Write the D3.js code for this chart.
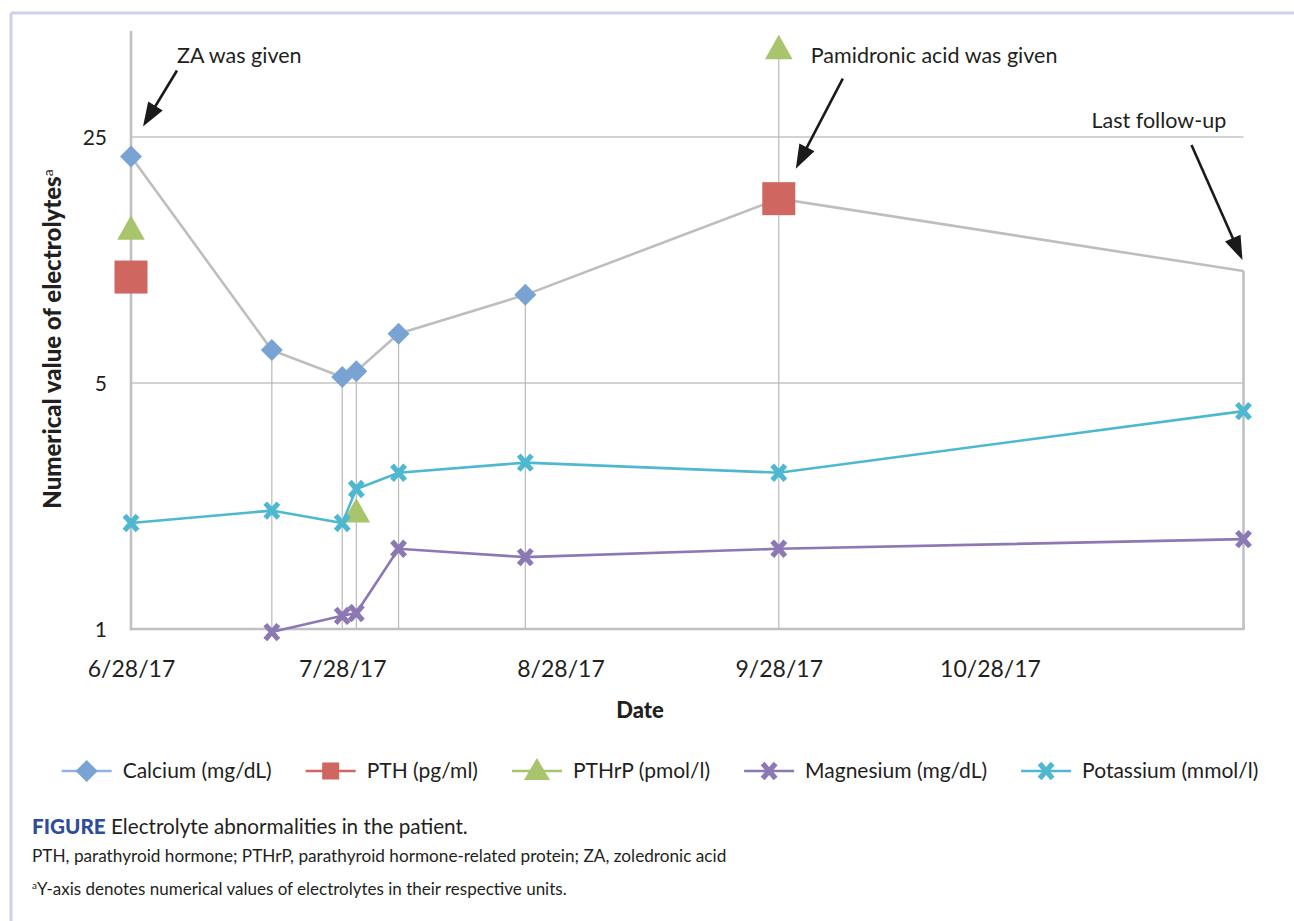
<!DOCTYPE html>
<html>
<head>
<meta charset="utf-8">
<script src="https://cdn.jsdelivr.net/npm/d3@7"></script>
<style>
  body { margin: 0; background: #fff; }
  svg { display: block; }
  text { font-family: Lato, "Open Sans", sans-serif; fill: #231f20; }
</style>
</head>
<body>
<svg id="chart" width="1294" height="921"></svg>
<script>
// ---- data -------------------------------------------------------------
const visitDates = ["2017-06-28", "2017-07-18", "2017-07-28", "2017-07-30",
                    "2017-08-05", "2017-08-23", "2017-09-28", "2017-12-03"];
const calcium = [22, 6.2, 5.2, 5.4, 6.9, 8.9, 16.7, 10.4];
const calciumMarked = [true, true, true, true, true, true, true, false];

const pthDates = ["2017-06-28", "2017-09-28"];
const pth = [10, 16.7];

const pthrpDates = ["2017-06-28", "2017-07-30", "2017-09-28"];
const pthrp = [13.8, 2.17, 45];

const magnesiumDates = ["2017-07-18", "2017-07-28", "2017-07-30", "2017-08-05",
                        "2017-08-23", "2017-09-28", "2017-12-03"];
const magnesium = [0.98, 1.09, 1.11, 1.69, 1.6, 1.69, 1.8];

const potassium = [2.0, 2.17, 2.0, 2.5, 2.78, 2.97, 2.78, 4.16];

const yTicks = [1, 5, 25];
const yAxisTop = 50;
const xTickDates = ["2017-06-28", "2017-07-28", "2017-08-28", "2017-09-28", "2017-10-28"];
const xTickLabels = ["6/28/17", "7/28/17", "8/28/17", "9/28/17", "10/28/17"];

const seriesNames = ["Calcium (mg/dL)", "PTH (pg/ml)", "PTHrP (pmol/l)",
                     "Magnesium (mg/dL)", "Potassium (mmol/l)"];

const annotations = [
  { text: "ZA was given", date: "2017-06-28", value: 22,
    tip: [12, -30], tail: [46, -86], label: [46, -94] },
  { text: "Pamidronic acid was given", date: "2017-09-28", value: 16.7,
    tip: [17, -30], tail: [64, -120], label: [32, -136] },
  { text: "Last follow-up", date: "2017-12-03", value: 10.4,
    tip: [-1, -11], tail: [-52, -126], label: [-152, -143] }
];

// ---- setup ------------------------------------------------------------
const parse = d3.utcParse("%Y-%m-%d");
const svg = d3.select("#chart");

const colors = {
  calcium: "#78a3d3", calciumLine: "#8fb4de", connector: "#bebebe",
  pth: "#cf665f", pthrp: "#a8c46c", magnesium: "#8c78b2", potassium: "#4db8d0",
  grid: "#c4c4c4", axis: "#c0c0c4", frame: "#cdd0ec"
};

const x = d3.scaleUtc()
  .domain([parse(visitDates[0]), parse(visitDates[visitDates.length - 1])])
  .range([131, 1243.5]);
const y = d3.scaleLog().base(5).domain([1, 25]).range([629, 137]);

const xL = x.range()[0], xR = x.range()[1];

// page frame
svg.append("line").attr("x1", 11).attr("x2", 1294).attr("y1", 13).attr("y2", 13)
  .attr("stroke", colors.frame).attr("stroke-width", 3);
svg.append("line").attr("x1", 11).attr("x2", 11).attr("y1", 13).attr("y2", 921)
  .attr("stroke", colors.frame).attr("stroke-width", 3);

// horizontal gridlines
svg.append("g").selectAll("line").data(yTicks.filter(t => t > 1)).join("line")
  .attr("x1", xL).attr("x2", xR)
  .attr("y1", d => y(d)).attr("y2", d => y(d))
  .attr("stroke", colors.grid).attr("stroke-width", 1.3);

// drop lines from the highest reading on each date
const allReadings = [];
visitDates.forEach((d, i) => allReadings.push({ d, v: calcium[i] }));
pthDates.forEach((d, i) => allReadings.push({ d, v: pth[i] }));
pthrpDates.forEach((d, i) => allReadings.push({ d, v: pthrp[i] }));
magnesiumDates.forEach((d, i) => allReadings.push({ d, v: magnesium[i] }));
visitDates.forEach((d, i) => allReadings.push({ d, v: potassium[i] }));
const dropTops = Array.from(d3.rollup(allReadings, r => d3.max(r, e => e.v), e => e.d),
  ([d, v]) => ({ d, v }));
const lastDate = visitDates[visitDates.length - 1];
svg.append("g").selectAll("line").data(dropTops).join("line")
  .attr("x1", d => x(parse(d.d))).attr("x2", d => x(parse(d.d)))
  .attr("y1", d => y(d.v)).attr("y2", y(1))
  .attr("stroke", d => d.d === lastDate ? colors.axis : "#b9b9b9")
  .attr("stroke-width", d => d.d === lastDate ? 2.6 : 1.2);

// axes
const yAxis = d3.axisLeft(y).tickValues(yTicks).tickSize(0).tickPadding(24)
  .tickFormat(d3.format("d"));
const gy = svg.append("g").attr("transform", `translate(${xL},0)`).call(yAxis);
gy.select(".domain").remove();
gy.selectAll("text").style("font-size", "21px").attr("dy", "0.36em");
svg.append("line").attr("x1", xL).attr("x2", xL).attr("y1", y(yAxisTop)).attr("y2", y(1) + 1.3)
  .attr("stroke", colors.axis).attr("stroke-width", 2.6);

const xAxis = d3.axisBottom(x).tickValues(xTickDates.map(parse)).tickSize(0).tickPadding(0)
  .tickFormat((d, i) => xTickLabels[i]);
const gx = svg.append("g").attr("transform", `translate(0,${y(1)})`).call(xAxis);
gx.select(".domain").remove();
gx.selectAll("text").style("font-size", "23px").attr("y", 48).attr("dy", 0);
svg.append("line").attr("x1", xL - 1.3).attr("x2", xR + 1.3).attr("y1", y(1)).attr("y2", y(1))
  .attr("stroke", colors.axis).attr("stroke-width", 2.6);

// axis titles
svg.append("text").attr("x", 640).attr("y", 718).attr("text-anchor", "middle")
  .style("font-size", "22px").style("font-weight", 900).text("Date");
const yTitle = svg.append("text").attr("transform", "translate(61,339) rotate(-90)")
  .attr("text-anchor", "middle").style("font-size", "24px").style("font-weight", 900);
yTitle.append("tspan").text("Numerical value of electrolytes");
yTitle.append("tspan").attr("baseline-shift", "super").style("font-size", "14px")
  .style("font-weight", 400).text("a");

// connecting lines
const line = d3.line().x(d => x(parse(d.d))).y(d => y(d.v));
const calciumPts = visitDates.map((d, i) => ({ d, v: calcium[i], m: calciumMarked[i] }));
const magnesiumPts = magnesiumDates.map((d, i) => ({ d, v: magnesium[i] }));
const potassiumPts = visitDates.map((d, i) => ({ d, v: potassium[i] }));
const pthPts = pthDates.map((d, i) => ({ d, v: pth[i] }));
const pthrpPts = pthrpDates.map((d, i) => ({ d, v: pthrp[i] }));

svg.append("path").datum(calciumPts).attr("d", line).attr("fill", "none")
  .attr("stroke", colors.connector).attr("stroke-width", 2.6);
svg.append("path").datum(magnesiumPts).attr("d", line).attr("fill", "none")
  .attr("stroke", colors.magnesium).attr("stroke-width", 2.6);
svg.append("path").datum(potassiumPts).attr("d", line).attr("fill", "none")
  .attr("stroke", colors.potassium).attr("stroke-width", 2.6);

// marker shapes
const shapes = {
  diamond: g => g.append("path").attr("d", "M0,-11L11,0L0,11L-11,0Z"),
  square: g => g.append("rect").attr("x", -16.5).attr("y", -16.5).attr("width", 33).attr("height", 33),
  triangle: g => g.append("path").attr("d", "M0,-12.5L13.8,12L-13.8,12Z"),
  cross: (g, c) => {
    g.append("path").attr("d", "M-6.5,-7.5L6.5,7.5M6.5,-7.5L-6.5,7.5")
      .attr("stroke", c).attr("stroke-width", 5.2).attr("fill", "none");
  }
};
function drawMarkers(pts, shape, color) {
  svg.append("g").selectAll("g").data(pts).join("g")
    .attr("transform", d => `translate(${x(parse(d.d))},${y(d.v)})`)
    .each(function () {
      const g = d3.select(this);
      if (shape === "cross") shapes.cross(g, color);
      else shapes[shape](g).attr("fill", color);
    });
}
drawMarkers(calciumPts.filter(p => p.m), "diamond", colors.calcium);
drawMarkers(pthPts, "square", colors.pth);
drawMarkers(pthrpPts, "triangle", colors.pthrp);
drawMarkers(magnesiumPts, "cross", colors.magnesium);
drawMarkers(potassiumPts, "cross", colors.potassium);

// annotations with arrows
const ann = svg.append("g");
annotations.forEach(a => {
  const ax = x(parse(a.date)), ay = y(a.value);
  const tip = [ax + a.tip[0], ay + a.tip[1]];
  const tail = [ax + a.tail[0], ay + a.tail[1]];
  const dx = tip[0] - tail[0], dy = tip[1] - tail[1];
  const len = Math.hypot(dx, dy), ux = dx / len, uy = dy / len;
  const headL = 24, headW = 8.5;
  const base = [tip[0] - ux * headL, tip[1] - uy * headL];
  ann.append("line").attr("x1", tail[0]).attr("y1", tail[1])
    .attr("x2", base[0] + ux * 2).attr("y2", base[1] + uy * 2)
    .attr("stroke", "#1a1a1a").attr("stroke-width", 2.6);
  ann.append("path")
    .attr("d", `M${tip[0]},${tip[1]}L${base[0] - uy * headW},${base[1] + ux * headW}` +
               `L${base[0] + uy * headW},${base[1] - ux * headW}Z`)
    .attr("fill", "#1a1a1a");
  ann.append("text").attr("x", ax + a.label[0]).attr("y", ay + a.label[1])
    .style("font-size", "21.5px").text(a.text);
});

// legend
const legendItems = [
  { name: seriesNames[0], shape: "diamond", color: colors.calcium, line: colors.calciumLine },
  { name: seriesNames[1], shape: "square", color: colors.pth, line: colors.pth },
  { name: seriesNames[2], shape: "triangle", color: colors.pthrp, line: colors.pthrp },
  { name: seriesNames[3], shape: "cross", color: colors.magnesium, line: colors.magnesium },
  { name: seriesNames[4], shape: "cross", color: colors.potassium, line: colors.potassium }
];
const legend = svg.append("g");
let cursor = 0;
const legendY = 771;
legendItems.forEach(it => {
  const g = legend.append("g").attr("transform", `translate(${cursor},${legendY})`);
  g.append("line").attr("x1", 0).attr("x2", 50).attr("stroke", it.line).attr("stroke-width", 2.6);
  const m = g.append("g").attr("transform", "translate(25,0)");
  if (it.shape === "cross") shapes.cross(m, it.color);
  else if (it.shape === "square") m.append("rect").attr("x", -8.5).attr("y", -8.5)
    .attr("width", 17).attr("height", 17).attr("fill", it.color);
  else if (it.shape === "triangle") m.append("path").attr("d", "M0,-13L13,9L-13,9Z").attr("fill", it.color);
  else shapes[it.shape](m).attr("fill", it.color);
  const t = g.append("text").attr("x", 61).attr("y", 7).style("font-size", "21px").text(it.name);
  cursor += 61 + t.node().getComputedTextLength() + 34;
});
const legendWidth = cursor - 34;
legend.attr("transform", `translate(${660 - legendWidth / 2},0)`);

// caption
const cap = svg.append("text").attr("x", 32).attr("y", 834).style("font-size", "20.7px");
cap.append("tspan").style("font-weight", 900).style("fill", "#2f4c9c").text("FIGURE");
cap.append("tspan").text(" Electrolyte abnormalities in the patient.");
svg.append("text").attr("x", 32).attr("y", 862).style("font-size", "17.2px")
  .text("PTH, parathyroid hormone; PTHrP, parathyroid hormone-related protein; ZA, zoledronic acid");
const note = svg.append("text").attr("x", 32).attr("y", 895).style("font-size", "17px");
note.append("tspan").attr("baseline-shift", "super").style("font-size", "10px").text("a");
note.append("tspan").text("Y-axis denotes numerical values of electrolytes in their respective units.");
</script>
</body>
</html>
